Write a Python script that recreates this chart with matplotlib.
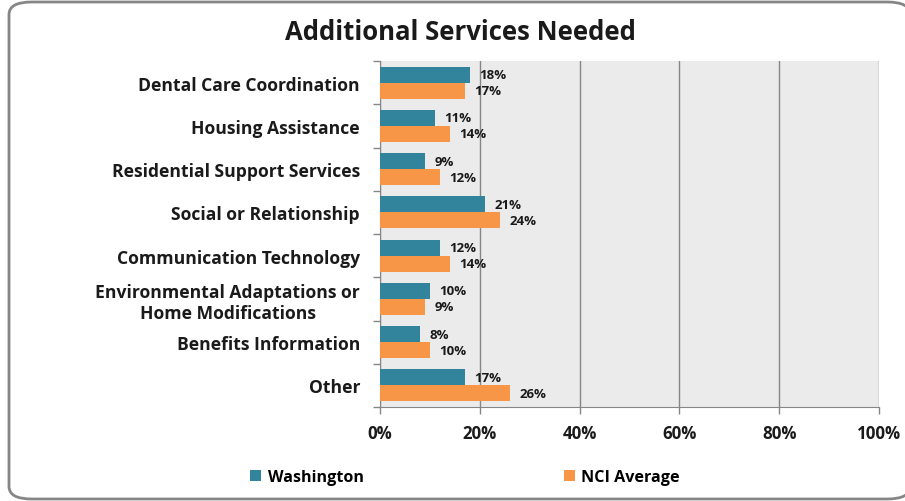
import numpy as np
import matplotlib.pyplot as plt
from matplotlib.patches import FancyBboxPatch

categories = ["Dental Care Coordination", "Housing Assistance", "Residential Support Services",
              "Social or Relationship", "Communication Technology",
              "Environmental Adaptations or\nHome Modifications", "Benefits Information", "Other"]
washington = [18, 11, 9, 21, 12, 10, 8, 17]
nci_average = [17, 14, 12, 24, 14, 9, 10, 26]
xticks = [0, 20, 40, 60, 80, 100]

plt.rcParams["font.family"] = ["Open Sans", "DejaVu Sans"]
teal = "#31849B"
orange = "#F79646"

fig = plt.figure(figsize=(9.05, 5.02), dpi=100)

# rounded chart border (right side runs off the image)
border = FancyBboxPatch((9 / 905, 2 / 502), 901 / 905, 497 / 502,
                        boxstyle="round,pad=0,rounding_size=0.025",
                        transform=fig.transFigure, facecolor="white",
                        edgecolor="#868686", linewidth=2, zorder=-1)
fig.patches.append(border)

ax = fig.add_axes([380 / 905, 1 - 408 / 502, 499 / 905, 346 / 502])
ax.set_facecolor("#EBEBEB")

y = np.arange(len(categories))
h = 0.37
ax.barh(y - h / 2, washington, height=h, color=teal, label="Washington", zorder=3)
ax.barh(y + h / 2, nci_average, height=h, color=orange, label="NCI Average", zorder=3)

for i in range(len(categories)):
    ax.text(washington[i] + 1.9, y[i] - h / 2, f"{washington[i]}%", va="center", ha="left",
            fontsize=9.5, fontweight="bold", color="#1a1a1a", zorder=4)
    ax.text(nci_average[i] + 1.9, y[i] + h / 2, f"{nci_average[i]}%", va="center", ha="left",
            fontsize=9.5, fontweight="bold", color="#1a1a1a", zorder=4)

ax.set_xlim(0, 100)
ax.set_ylim(len(categories) - 0.5, -0.5)
ax.set_xticks(xticks)
ax.set_xticklabels([f"{t}%" for t in xticks], fontsize=12.2, fontweight="bold", color="#1a1a1a")
ax.set_yticks(y)
ax.set_yticklabels(categories, fontsize=12.6, fontweight="bold", color="#1a1a1a", multialignment="center")
ax.set_yticks(np.arange(len(categories) + 1) - 0.5, minor=True)
ax.tick_params(axis="y", which="major", length=0, pad=14.4)
ax.tick_params(axis="y", which="minor", length=5, color="#868686", width=1)
ax.tick_params(axis="x", length=5, color="#868686", width=1, pad=7)
ax.grid(axis="x", color="#868686", linewidth=1, zorder=1)

for side in ["top", "right"]:
    ax.spines[side].set_visible(False)
for side in ["left", "bottom"]:
    ax.spines[side].set_color("#868686")

fig.text(460 / 905, 1 - 33 / 502, "Additional Services Needed", ha="center", va="center",
         fontsize=18.5, fontweight="bold", color="#1a1a1a")

fig.legend(loc="center", bbox_to_anchor=(465 / 905, 1 - 478 / 502), ncol=2, frameon=False,
           prop={"weight": "bold", "size": 11.6}, handlelength=0.7, handleheight=0.7,
           handletextpad=0.4, columnspacing=12.4)

fig.savefig("out.png", dpi=100)
